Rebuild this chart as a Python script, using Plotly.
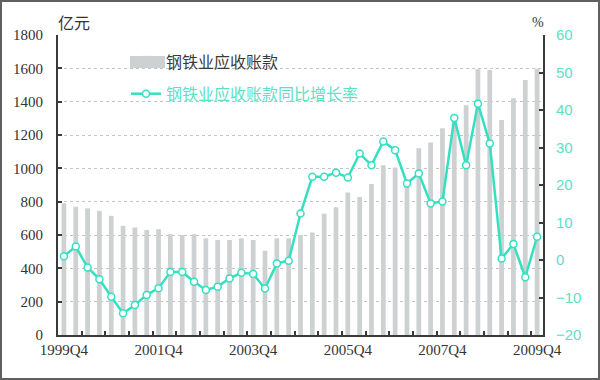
import plotly.graph_objects as go

# ---- data ----
quarters = [f"{y}Q{q}" for y in range(1999, 2010) for q in range(1, 5)]
quarters = quarters[quarters.index("1999Q4"):quarters.index("2009Q4") + 1]

receivables = [790, 770, 760, 745, 715, 655, 645, 630, 635, 605,
               600, 605, 580, 570, 570, 580, 570, 505, 580, 580,
               600, 615, 728, 766, 855, 828, 906, 1018, 1005, 900,
               1120, 1155, 1240, 1300, 1378, 1595, 1590, 1290, 1420, 1530,
               1598]

growth = [1.0, 3.6, -2.0, -5.1, -9.8, -14.2, -12.0, -9.3, -7.5, -3.2,
          -3.2, -5.8, -8.0, -7.1, -4.9, -3.4, -3.7, -7.6, -0.9, -0.2,
          12.4, 22.2, 22.2, 23.3, 22.0, 28.4, 25.3, 31.6, 29.3, 20.4,
          23.1, 15.1, 15.6, 37.9, 25.3, 41.7, 31.1, 0.4, 4.3, -4.6,
          6.2]

tick_labels = ["1999Q4", "2001Q4", "2003Q4", "2005Q4", "2007Q4", "2009Q4"]
left_ticks = list(range(0, 1801, 200))
right_ticks = list(range(-20, 61, 10))

name_bar = "钢铁业应收账款"
name_line = "钢铁业应收账款同比增长率"

TEAL = "#35e0c0"
TEAL_TXT = "#5ce0c6"
BAR = "#cdd1d1"
AXIS = "#3a3a3a"

xs = list(range(len(quarters)))

fig = go.Figure()
fig.add_trace(go.Bar(
    x=xs, y=receivables, name=name_bar, marker=dict(color=BAR, line=dict(width=0)),
    legendgroup="a", yaxis="y"))
fig.add_trace(go.Scatter(
    x=xs, y=growth, name=f'<span style="color:{TEAL_TXT}">{name_line}</span>',
    mode="lines+markers", legendgroup="b", yaxis="y2",
    line=dict(color=TEAL, width=2.5),
    marker=dict(symbol="circle", size=7, color="white", line=dict(color=TEAL, width=1.5))))

W, H = 600, 380
L, R, T, B = 58, 57, 35, 45
pw, ph = W - L - R, H - T - B

def px2x(p):
    return (p - L) / pw

def py2y(p):
    return (H - B - p) / ph

serif = "Liberation Serif, DejaVu Serif, serif"

fig.update_layout(
    width=W, height=H,
    margin=dict(l=L, r=R, t=T, b=B),
    paper_bgcolor="white", plot_bgcolor="white",
    bargap=0.6,
    showlegend=True,
    legend=dict(x=px2x(126), y=py2y(45), xanchor="left", yanchor="top",
                bgcolor="rgba(0,0,0,0)", font=dict(family="Noto Sans CJK SC", size=16, color="#3a3a3a"),
                tracegroupgap=8, itemwidth=30),
    xaxis=dict(range=[-0.5, len(quarters) - 0.5],
               tickmode="array",
               tickvals=[quarters.index(t) for t in tick_labels],
               ticktext=tick_labels, ticks="",
               tickfont=dict(family=serif, size=15, color="#333"),
               showline=True, linecolor=AXIS, linewidth=2, showgrid=False, zeroline=False,
               minor=dict(tickmode="array", tickvals=[i + 0.5 for i in range(1, len(quarters) - 1, 2)],
                          ticks="inside", ticklen=4, tickwidth=1.5, tickcolor=AXIS, showgrid=False)),
    yaxis=dict(range=[0, 1800], tickmode="array", tickvals=left_ticks,
               ticks="inside", ticklen=4, tickwidth=1.5, tickcolor=AXIS,
               tickfont=dict(family=serif, size=15, color="#333"),
               ticklabelstandoff=10,
               showline=True, linecolor=AXIS, linewidth=2,
               showgrid=True, gridcolor="#c4c4c4", griddash="dot", gridwidth=1, zeroline=False),
    yaxis2=dict(range=[-20, 60], tickmode="array", tickvals=right_ticks,
                overlaying="y", side="right",
                ticks="inside", ticklen=4, tickwidth=1.5, tickcolor=AXIS,
                tickfont=dict(family="Liberation Sans, Arial, sans-serif", size=15, color=TEAL_TXT),
                ticklabelstandoff=8,
                showline=True, linecolor=AXIS, linewidth=2, showgrid=False, zeroline=False),
    shapes=[
        dict(type="rect", xref="paper", yref="paper", layer="below",
             x0=px2x(78), x1=px2x(430), y0=py2y(116), y1=py2y(45),
             fillcolor="white", line=dict(width=0)),
        # wide legend swatch for the bar series
        dict(type="rect", xref="paper", yref="paper", layer="above",
             x0=px2x(130), x1=px2x(165), y0=py2y(68), y1=py2y(56),
             fillcolor=BAR, line=dict(width=0)),
        dict(type="rect", xref="paper", yref="paper", layer="above",
             x0=px2x(1), x1=px2x(599), y0=py2y(379), y1=py2y(1),
             line=dict(color="#606060", width=2), fillcolor="rgba(0,0,0,0)"),
    ],
    annotations=[
        dict(text="亿元", xref="paper", yref="paper", x=px2x(56), y=py2y(36),
             xanchor="left", yanchor="bottom", showarrow=False,
             font=dict(family="Noto Sans CJK SC", size=16, color="#333")),
        dict(text="%", xref="paper", yref="paper", x=px2x(538), y=py2y(32),
             xanchor="center", yanchor="bottom", showarrow=False,
             font=dict(family=serif, size=14, color="#333")),
    ],
)

fig.write_html("out.html")
